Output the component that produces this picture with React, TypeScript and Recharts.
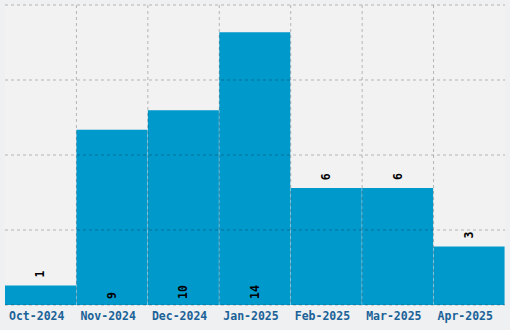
import React from "react";
import { BarChart, Bar, XAxis, YAxis, CartesianGrid, LabelList } from "recharts";

const months = ["Oct-2024", "Nov-2024", "Dec-2024", "Jan-2025", "Feb-2025", "Mar-2025", "Apr-2025"];
const counts = [1, 9, 10, 14, 6, 6, 3];
const yTicks = [3.85, 7.7, 11.55];
const yMax = 15.4;

const data = months.map((m, i) => ({ month: m, count: counts[i] }));

const FONT = "'DejaVu Sans Mono', 'Liberation Mono', monospace";

const BarLabel = (props: any) => {
  const { x, y, width, height, value } = props;
  const cx = x + width / 2;
  const inside = value > 8;
  const ty = inside ? y + height - 6 : y - 8;
  return (
    <text
      x={cx}
      y={ty}
      transform={`rotate(-90, ${cx}, ${ty})`}
      textAnchor="start"
      dominantBaseline="central"
      fontFamily={FONT}
      fontWeight="bold"
      fontSize={11.5}
      fill="#000"
    >
      {value}
    </text>
  );
};

const verticalGen = (args: any) => {
  const { xAxis } = args;
  const scale = xAxis?.scale;
  const out: number[] = [];
  months.slice(1).forEach((m) => {
    const v = typeof scale === "function" ? scale(m) : scale?.map?.(m);
    if (typeof v === "number" && !isNaN(v)) out.push(v);
  });
  return out;
};

export default function App() {
  return (
    <div style={{ position: "absolute", left: 0, top: 0, width: 510, height: 330, background: "#eef0f1" }}>
      <BarChart
        width={510}
        height={330}
        data={data}
        margin={{ top: 5, right: 5, left: 5, bottom: 0 }}
        barCategoryGap="0%"
        barGap={0}
      >
        <CartesianGrid fill="#f2f2f2" horizontal={false} vertical={false} stroke="none" />
        <XAxis
          dataKey="month"
          axisLine={false}
          tickLine={false}
          height={25}
          interval={0}
          tick={{ fontFamily: FONT, fontWeight: "bold", fontSize: 11.5, fill: "#1a6298", dx: -4 }}
          tickMargin={1}
        />
        <YAxis hide domain={[0, yMax]} ticks={yTicks} type="number" />
        <Bar dataKey="count" fill="#0099cc" isAnimationActive={false}>
          <LabelList dataKey="count" content={BarLabel} />
        </Bar>
        <CartesianGrid
          {...({ zIndex: 1000 } as any)}
          stroke="#000"
          strokeOpacity={0.25}
          strokeDasharray="3 3"
          verticalCoordinatesGenerator={verticalGen}
        />
      </BarChart>
    </div>
  );
}
